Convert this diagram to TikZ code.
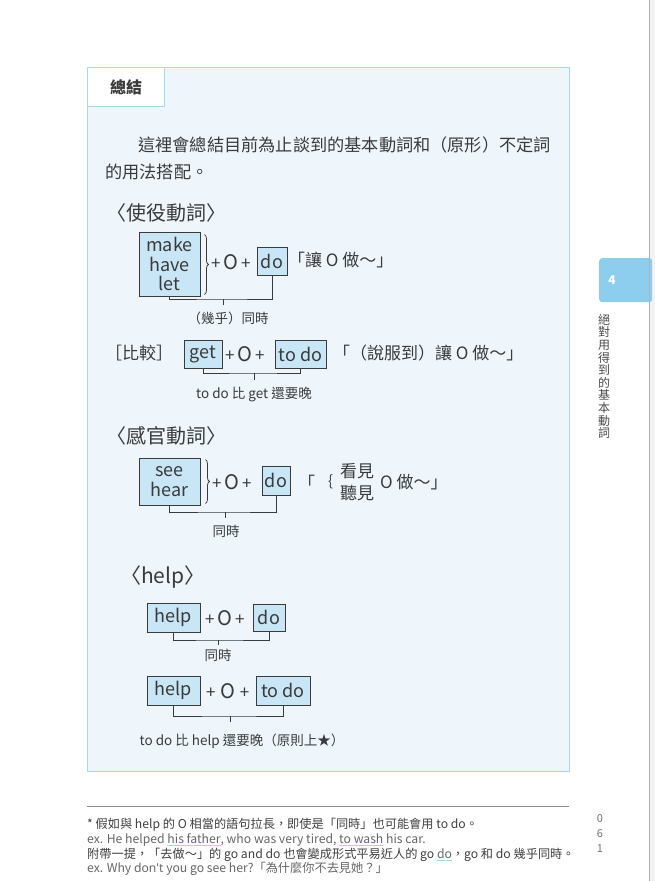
\documentclass[tikz,border=0pt]{standalone}
\usepackage{fontspec}
\setmainfont{Noto Sans CJK TC}
\newfontfamily\latinfont{Noto Sans}
\usepackage{xcolor}
\usepackage{tikz}
\usetikzlibrary{decorations.pathreplacing}

\definecolor{panelfill}{HTML}{EEF6FC}
\definecolor{panelline}{HTML}{A6D8EE}
\definecolor{boxfill}{HTML}{C8E6F5}
\definecolor{inkc}{HTML}{3A3A3A}
\definecolor{tabblue}{HTML}{8DCDEE}
\definecolor{notegray}{HTML}{666666}
\newcommand{\blueul}[1]{\textcolor{panelline}{\underline{\textcolor{notegray}{#1}}}}
\newcommand{\fs}[1]{\fontsize{#1}{#1}\selectfont}
\newcommand{\bigO}{{\fontsize{20}{20}\selectfont O}}

\begin{document}
\begin{tikzpicture}[x=1pt, y=-1pt, inner sep=0pt, text=inkc,
    wordbox/.style={draw=inkc, fill=boxfill, line width=0.9pt, align=center, font=\fontsize{18}{19.5}\selectfont},
    ink/.style={draw=inkc, line width=0.8pt},
    hand/.style={anchor=west, font=\fs{17}},
    head/.style={anchor=west, font=\fs{20}},
    under/.style={font=\fs{13.5}},
    curly/.style={ink, decorate, decoration={brace, amplitude=4pt}},
    foot/.style={anchor=west, text=notegray, font=\fs{12.2}}]

  \useasboundingbox (0,0) rectangle (655,881);
  \fill[white] (0,0) rectangle (655,881);
  \fill[black!5] (650,0) rectangle (655,881);

  % panel
  \node[draw=panelline, fill=panelfill, line width=1pt, minimum width=482, minimum height=704, anchor=north west] (panel) at (87,67) {};
  \node[draw=panelline, fill=white, line width=1pt, minimum width=77, minimum height=39, anchor=north west, font=\bfseries\fs{16}] (title) at (panel.north west) {總結};

  \node[anchor=west, font=\fs{17.2}] (intro1) at (138,145) {這裡會總結目前為止談到的基本動詞和（原形）不定詞};
  \node[anchor=west, font=\fs{17.2}] (intro2) at (105,172) {的用法搭配。};

  % causative verbs
  \node[head] (hd1) at (106,213) {〈使役動詞〉};
  \node[wordbox, minimum width=61, minimum height=64] (mk) at (169.5,264) {make\\have\\let};
  \draw[curly] ([xshift=4pt, yshift=-3pt]mk.north east) -- ([xshift=4pt, yshift=2pt]mk.south east);
  \node[hand] (p1) at (211,262) {+\,\bigO\,+};
  \node[wordbox, minimum width=30, minimum height=28] (do1) at (272,261) {do};
  \node[hand] (m1) at (288,260) {「讓 O 做～」};
  \coordinate (j1) at (223,299);
  \draw[ink] (mk.south) |- (j1) -| (do1.south);
  \draw[ink] (j1) -- ++(0,6);
  \node[under] (n1) at (228,318) {（幾乎）同時};

  \node[hand] (cmp) at (105,353) {［比較］};
  \node[wordbox, minimum width=38, minimum height=28] (get) at (203,354) {get};
  \node[hand] (p2) at (225,354) {+\,\bigO\,+};
  \node[wordbox, minimum width=51, minimum height=28] (todo1) at (300.5,354) {to do};
  \node[hand] (m2) at (333,353) {「（說服到）讓 O 做～」};
  \coordinate (j2) at (254,373);
  \draw[ink] (get.south) |- (j2) -| (todo1.south);
  \draw[ink] (j2) -- ++(0,7);
  \node[under] (n2) at (254,395) {to do 比 get 還要晚};

  % perception verbs
  \node[head] (hd2) at (106,436) {〈感官動詞〉};
  \node[wordbox, minimum width=61, minimum height=47] (see) at (169.5,481.5) {see\\hear};
  \draw[curly] ([xshift=5pt, yshift=-2pt]see.north east) -- ([xshift=5pt, yshift=2pt]see.south east);
  \node[hand] (p3) at (212,482) {+\,\bigO\,+};
  \node[wordbox, minimum width=28, minimum height=29] (do2) at (276,480.5) {do};
  \node[hand] (m3a) at (298,482) {「};
  \node[hand, font=\fs{15}] (m3b) at (318,482) {｛};
  \node[hand, align=left, font=\fontsize{17}{22}\selectfont] (m3c) at (340,482) {看見\\聽見};
  \node[hand] (m3d) at (380,482) {O 做～」};
  \coordinate (j3) at (225,512);
  \draw[ink] (see.south) |- (j3) -| (do2.south);
  \draw[ink] (j3) -- ++(0,6);
  \node[under] (n3) at (226,531) {同時};

  % help
  \node[head, font=\fs{21}] (hd3) at (120,577) {〈help〉};
  \node[wordbox, minimum width=53, minimum height=29] (help1) at (173.5,617.5) {help};
  \node[hand] (p4) at (205,618) {+\,\bigO\,+};
  \node[wordbox, minimum width=32, minimum height=27] (do3) at (269,617.5) {do};
  \coordinate (j4) at (218,640);
  \draw[ink] (help1.south) |- (j4) -| (do3.south);
  \draw[ink] (j4) -- ++(0,5);
  \node[under] (n4) at (218,655) {同時};

  \node[wordbox, minimum width=53, minimum height=29] (help2) at (173.5,690.5) {help};
  \node[hand] (p5) at (206,691) {+\;\bigO\;+};
  \node[wordbox, minimum width=54, minimum height=29] (todo2) at (283,690.5) {to do};
  \coordinate (j5) at (230,716);
  \draw[ink] (help2.south) |- (j5) -| (todo2.south);
  \draw[ink] (j5) -- ++(0,6);
  \node[under] (n5) at (242,741) {to do 比 help 還要晚（原則上★）};

  % footnote
  \draw[black!45, line width=0.8pt] (87,806) -- (569,806);
  \node[foot, text=black!75] (f1) at (87,825) {* 假如與 help 的 O 相當的語句拉長，即使是「同時」也可能會用 to do。};
  \node[foot] (f2) at (87,840) {ex. He helped \blueul{his father}, who was very tired, \blueul{to wash} his car.};
  \node[foot, text=black!75] (f3) at (87,855) {附帶一提，「去做～」的 go and do 也會變成形式平易近人的 go \blueul{do}，go 和 do 幾乎同時。};
  \node[foot] (f4) at (87,869) {ex. Why {\latinfont don't} you go see her?「為什麼你不去見她？」};

  % page side
  \node[fill=tabblue, rounded corners=3pt, minimum width=53, minimum height=44, anchor=north west] (tab) at (599,258) {};
  \node[text=white, font=\bfseries\fs{12}] (chap) at (612,280) {4};
  \node[align=center, text=black!70, font=\fontsize{12}{12.6}\selectfont, anchor=north] (side) at (604,314) {絕\\對\\用\\得\\到\\的\\基\\本\\動\\詞};
  \node[align=center, text=black!55, font=\fontsize{11}{15}\selectfont] (pg) at (600,833) {0\\6\\1};
  \draw[black!30, line width=1.2pt] (649.5,0) -- (649.5,881);
\end{tikzpicture}
\end{document}
